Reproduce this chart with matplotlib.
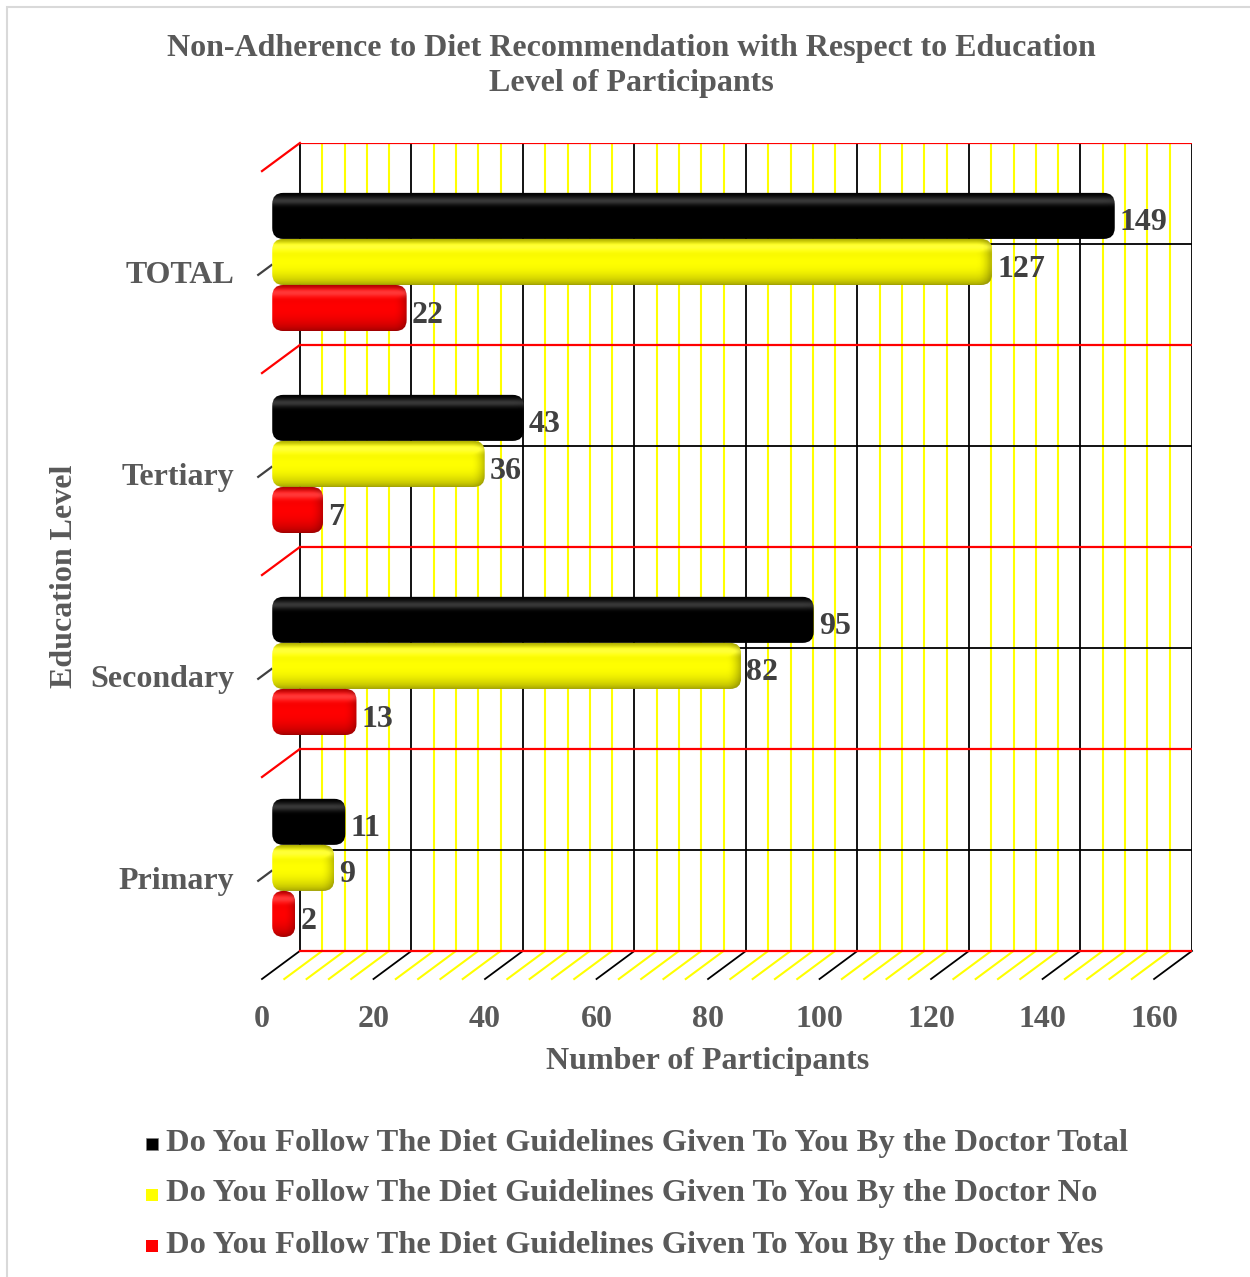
import numpy as np
import matplotlib
matplotlib.use("Agg")
import matplotlib.pyplot as plt
from matplotlib.patches import FancyBboxPatch, Rectangle

categories = ["Primary", "Secondary", "Tertiary", "TOTAL"]
total_vals = [11, 95, 43, 149]
no_vals = [9, 82, 36, 127]
yes_vals = [2, 13, 7, 22]
series_names = [
    "Do You Follow The Diet Guidelines Given To You By the Doctor Total",
    "Do You Follow The Diet Guidelines Given To You By the Doctor No",
    "Do You Follow The Diet Guidelines Given To You By the Doctor Yes",
]
series_colors = ["#000000", "#FFFF00", "#FF0000"]
x_ticks = list(range(0, 161, 20))

W, H = 1250, 1277
XMAX = 160
DX, DY = 6.8, 0.139          # projection of the back wall (x units, category units)
BAR_H = 0.228
F_FRONT, F_BACK, F_MID = 0.27, 0.58, 0.36
TXT = "#595959"
FS = 23
SERIF = ["Liberation Serif", "DejaVu Serif"]

plt.rcParams["font.family"] = SERIF
plt.rcParams["font.weight"] = "bold"

fig = plt.figure(figsize=(W / 100, H / 100), dpi=100)
ax = fig.add_axes([262 / W, 1 - 979 / H, 930 / W, (979 - 143) / H])
ax.set_xlim(0, XMAX + DX)
ax.set_ylim(-0.5, len(categories) - 0.5 + DY)
for s in ax.spines.values():
    s.set_visible(False)
ax.set_xticks(x_ticks)
ax.set_xticklabels([str(t) for t in x_ticks])
ax.set_yticks(range(len(categories)))
ax.set_yticklabels(categories)
ax.tick_params(length=0, labelsize=FS, labelcolor=TXT)
ax.tick_params(axis="x", pad=19)
ax.tick_params(axis="y", pad=20)

px_x = 930 / (XMAX + DX)
px_y = (979 - 143) / (len(categories) - 0.5 + DY + 0.5)

y_floor, y_top = -0.5, len(categories) - 0.5

# back wall and floor grid
for v in range(0, XMAX + 1, 4):
    major = v % 20 == 0
    c = "#000000" if major else "#FFFF00"
    lw = 1.3 if major else 1.5
    ax.plot([v + DX, v + DX], [y_floor + DY, y_top + DY], color=c, lw=lw, zorder=1)
    ax.plot([v, v + DX], [y_floor, y_floor + DY], color=c, lw=lw, zorder=1,
            clip_on=False)
for i in range(len(categories)):
    ax.plot([DX, XMAX + DX], [i + DY, i + DY], color="#000000", lw=1.3, zorder=1)
for k in range(len(categories) + 1):
    yb = k - 0.5
    ax.plot([DX, XMAX + DX], [yb + DY, yb + DY], color="#FF0000", lw=1.6, zorder=1.2)
    if k > 0:
        ax.plot([0, DX], [yb, yb + DY], color="#FF0000", lw=1.6, zorder=1.2,
                clip_on=False)
# category tick marks
for i in range(len(categories)):
    ax.plot([-0.1 * DX, 0.25 * DX], [i - 0.1 * DY, i + 0.25 * DY],
            color="#404040", lw=1.6, clip_on=False, zorder=1)


def shaded(base, nx, ny, end_px):
    t = np.linspace(0, 1, ny)[:, None]
    u = np.linspace(0, 1, nx)[None, :]
    prof = 0.62 + 0.38 * np.sin(np.pi * t) ** 0.6
    end = 1 - 0.25 * np.clip((u - (1 - end_px)) / end_px, 0, 1) ** 2
    img = np.array(base)[None, None, :] * (prof * end)[..., None]
    glow = 0.22 * np.exp(-((t - 0.82) / 0.09) ** 2)
    img = img + glow[..., None] * (0.6 + 0.4 * end[..., None])
    return np.clip(img, 0, 1)


rgb = [matplotlib.colors.to_rgb(c) for c in series_colors]
all_vals = [total_vals, no_vals, yes_vals]
rad = 11 / px_x
asp = px_y / px_x
for i in range(len(categories)):
    for k, vals in enumerate(all_vals):
        v = vals[i]
        yc = i + F_MID * DY + (1 - k) * BAR_H
        x0 = F_FRONT * DX
        x1 = v + F_BACK * DX
        y0 = yc - BAR_H / 2
        r = min(rad, (x1 - x0) / 2.05)
        patch = FancyBboxPatch((x0, y0), x1 - x0, BAR_H,
                               boxstyle=f"round,pad=0,rounding_size={r}",
                               mutation_aspect=1 / asp, facecolor="none",
                               edgecolor="none", zorder=3)
        ax.add_patch(patch)
        frac = min(0.5, 14 / ((x1 - x0) * px_x))
        im = ax.imshow(shaded(rgb[k], 200, 60, frac), extent=(x0, x1, y0, y0 + BAR_H),
                       origin="lower", aspect="auto", zorder=3, interpolation="bilinear")
        im.set_clip_path(patch)
        ax.text(x1 + 0.9, yc - 0.035, str(v), ha="left", va="center", fontsize=FS,
                fontweight="bold", color="#404040", zorder=4)

ax.set_xlim(0, XMAX + DX)
ax.set_ylim(-0.5, len(categories) - 0.5 + DY)

fig.text(631 / W, 1 - 66 / H,
         "Non-Adherence to Diet Recommendation with Respect to Education\nLevel of Participants",
         ha="center", va="center", fontsize=FS, fontweight="bold", color=TXT,
         linespacing=1.28)
fig.text(708 / W, 1 - 1061 / H, "Number of Participants", ha="center", va="center",
         fontsize=FS, fontweight="bold", color=TXT)
fig.text(65 / W, 1 - 576 / H, "Education Level", ha="center", va="center",
         rotation=90, fontsize=FS, fontweight="bold", color=TXT)

# legend
for k, name in enumerate(series_names):
    yl = 1 - (1144 + 51 * k) / H
    fig.patches.append(Rectangle((146 / W, yl - 6 / H), 12 / W, 12 / H,
                                 transform=fig.transFigure, facecolor=series_colors[k],
                                 edgecolor="#7f7f7f" if k == 0 else "none", lw=0.5))
    fig.text(166 / W, yl + 1 / H, name, ha="left", va="center", fontsize=23.4,
             fontweight="bold", color=TXT)

fig.patches.append(Rectangle((7 / W, -0.01), 1.0, 1 - 7 / H + 0.01,
                             transform=fig.transFigure, facecolor="none",
                             edgecolor="#D9D9D9", lw=1.5))

fig.savefig("out.png", dpi=100)
